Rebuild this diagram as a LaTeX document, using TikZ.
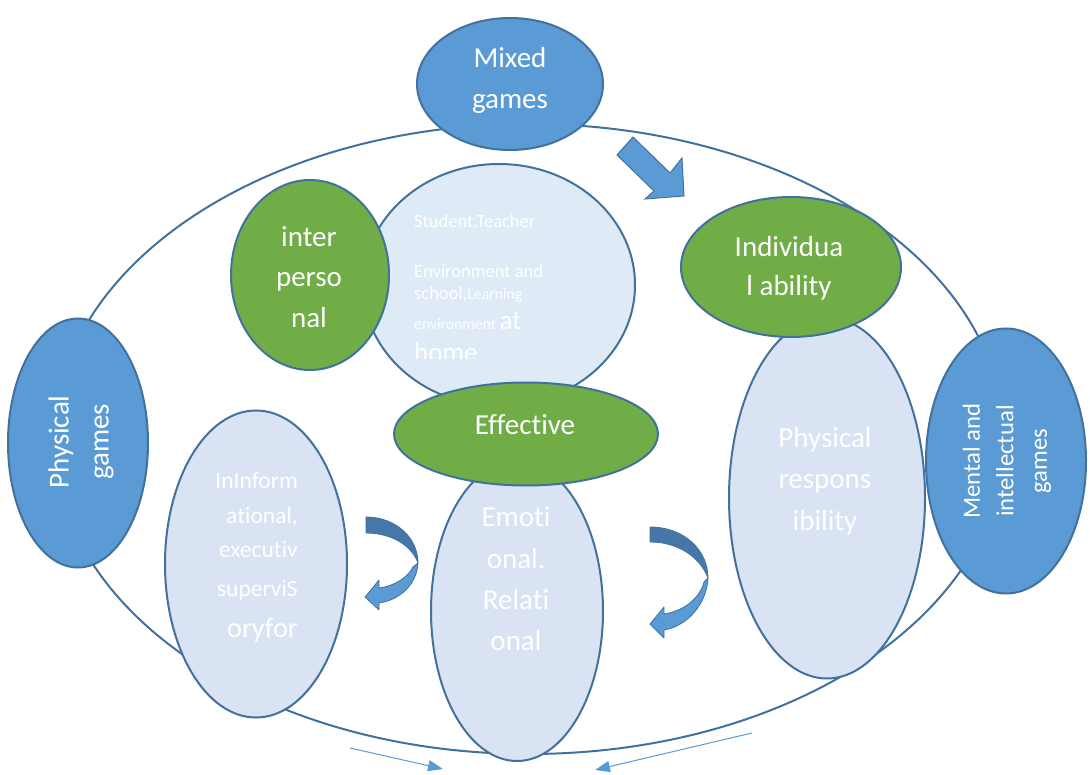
\documentclass[tikz,border=0pt]{standalone}
\usepackage{fontspec}
\setmainfont{Carlito}[Ligatures=NoCommon]
\usetikzlibrary{shapes.geometric,arrows.meta}
\definecolor{midblue}{HTML}{5B9BD5}
\definecolor{edge}{HTML}{41719C}
\definecolor{grn}{HTML}{70AD47}
\definecolor{paleA}{HTML}{DEEBF7}
\definecolor{paleB}{HTML}{DAE3F3}
\definecolor{darkrib}{HTML}{4677A8}
\tikzset{
  oval/.style 2 args={ellipse, draw=edge, line width=2pt, minimum width=#1pt, minimum height=#2pt, inner sep=0pt},
  bigtxt/.style={text=white, font=\fontsize{29pt}{41pt}\selectfont, align=center, inner sep=0pt},
  linetxt/.style={text=white, inner sep=0pt},
  ribbon/.style={draw=edge, line width=0.8pt, line join=round},
  thinarrow/.style={draw=midblue, line width=1pt, -{Triangle[length=15pt,width=11pt]}},
}
\begin{document}
\begin{tikzpicture}[x=1pt,y=-1pt]
\useasboundingbox (0,0) rectangle (1090,775);
% outer ring
\node[oval={950}{630}] (outer) at (529,439) {};
% top
\node[oval={186}{132}, fill=midblue] (mixed) at (510,84) {};
\fill[midblue, draw=edge, line width=1pt, line join=miter] (633,137) -- (670,173) -- (682,158) -- (684,196) -- (645,199) -- (654,191) -- (617,155) -- cycle;
% context and interpersonal
\node[oval={272}{242}, fill=paleA] (ctx) at (499,285) {};
\node[oval={158}{190}, fill=grn] (inter) at (310,275) {};
% right side
\node[oval={196}{361}, fill=paleB] (physresp) at (827,498) {};
\node[oval={220}{140}, fill=grn] (indiv) at (791,267) {};
\node[oval={160}{265}, fill=midblue] (mental) at (1006,461) {};
% left side
\node[oval={140}{249}, fill=midblue] (physg) at (78,443) {};
\node[oval={182}{307}, fill=paleB] (info) at (256,564) {};
% centre
\node[oval={172}{300}, fill=paleB] (emo) at (517,611) {};
\node[oval={264}{103}, fill=grn] (eff) at (526,434) {};
% curved arrows
\filldraw[ribbon, fill=darkrib] (366,517) .. controls (396,517) and (418,538) .. (418,563) .. controls (412,546) and (392,533) .. (366,533) -- cycle;
\filldraw[ribbon, fill=midblue] (418,563) .. controls (417,584) and (400,600) .. (379,603) -- (379,610) -- (365,597) -- (379,580) -- (379,588) .. controls (395,586) and (408,577) .. (413,567) -- cycle;
\filldraw[ribbon, fill=darkrib] (650,527) .. controls (684,527) and (708,550) .. (708,578) .. controls (700,557) and (678,542) .. (650,542) -- cycle;
\filldraw[ribbon, fill=midblue] (708,578) .. controls (707,603) and (688,626) .. (664,630) -- (664,638) -- (650,624) -- (664,607) -- (664,614) .. controls (684,611) and (700,598) .. (704,582) -- cycle;
% thin arrows
\coordinate (la) at (350,748);
\coordinate (lb) at (443,769);
\coordinate (ra) at (752,733);
\coordinate (rb) at (595,770);
\draw[thinarrow] (la) -- (lb);
\draw[thinarrow] (ra) -- (rb);
% texts
\node[bigtxt] (tmixed) at (510,80) {Mixed\\games};
\node[bigtxt, font=\fontsize{29pt}{40.5pt}\selectfont] (tinter) at (309,277) {inter\\perso\\nal};
\node[bigtxt, font=\fontsize{29pt}{39pt}\selectfont] (tindiv) at (789,268) {Individua\\l ability};
\node[bigtxt, font=\fontsize{29pt}{41.5pt}\selectfont] (tphysresp) at (825,481) {Physical\\respons\\ibility};
\node[bigtxt, font=\fontsize{29pt}{41.3pt}\selectfont] (temo) at (516,579) {Emoti\\onal.\\Relati\\onal};
\node[bigtxt, anchor=base] (teff) at (525,435) {Effective};
\node[bigtxt, rotate=90, font=\fontsize{29pt}{40pt}\selectfont] (tphysg) at (81,442) {Physical\\games};
\node[bigtxt, rotate=90, font=\fontsize{24.7pt}{33.5pt}\selectfont] (tmental) at (1007,461) {Mental and\\intellectual\\games};
% context text
\begin{scope}
\clip (400,190) rectangle (630,359);
\node[linetxt, anchor=base west, font=\fontsize{18.5pt}{22pt}\selectfont] (c1) at (414,228) {Student,Teacher};
\node[linetxt, anchor=base west, font=\fontsize{18.5pt}{22pt}\selectfont] (c2) at (414,278) {Environment and};
\node[linetxt, anchor=base west, font=\fontsize{18.5pt}{22pt}\selectfont] (c3) at (414,300) {school,{\fontsize{15.7pt}{19pt}\selectfont Learning}};
\node[linetxt, anchor=base west, font=\fontsize{15.7pt}{19pt}\selectfont] (c4) at (414,330) {environment {\fontsize{27pt}{32pt}\selectfont at}};
\node[linetxt, anchor=base west, font=\fontsize{27pt}{32pt}\selectfont] (c5) at (414,362) {home};
\end{scope}
% informational text
\node[linetxt, anchor=base east, font=\fontsize{23.5pt}{28pt}\selectfont] (i1) at (298,489) {InInform};
\node[linetxt, anchor=base east, font=\fontsize{23.5pt}{28pt}\selectfont] (i2) at (298,523) {ational,};
\node[linetxt, anchor=base east, font=\fontsize{23.5pt}{28pt}\selectfont] (i3) at (298,557) {executiv};
\node[linetxt, anchor=base east, font=\fontsize{23.5pt}{28pt}\selectfont] (i4) at (298,596) {superviS};
\node[linetxt, anchor=base east, font=\fontsize{28.3pt}{34pt}\selectfont] (i5) at (298,637) {oryfor};
\end{tikzpicture}
\end{document}
